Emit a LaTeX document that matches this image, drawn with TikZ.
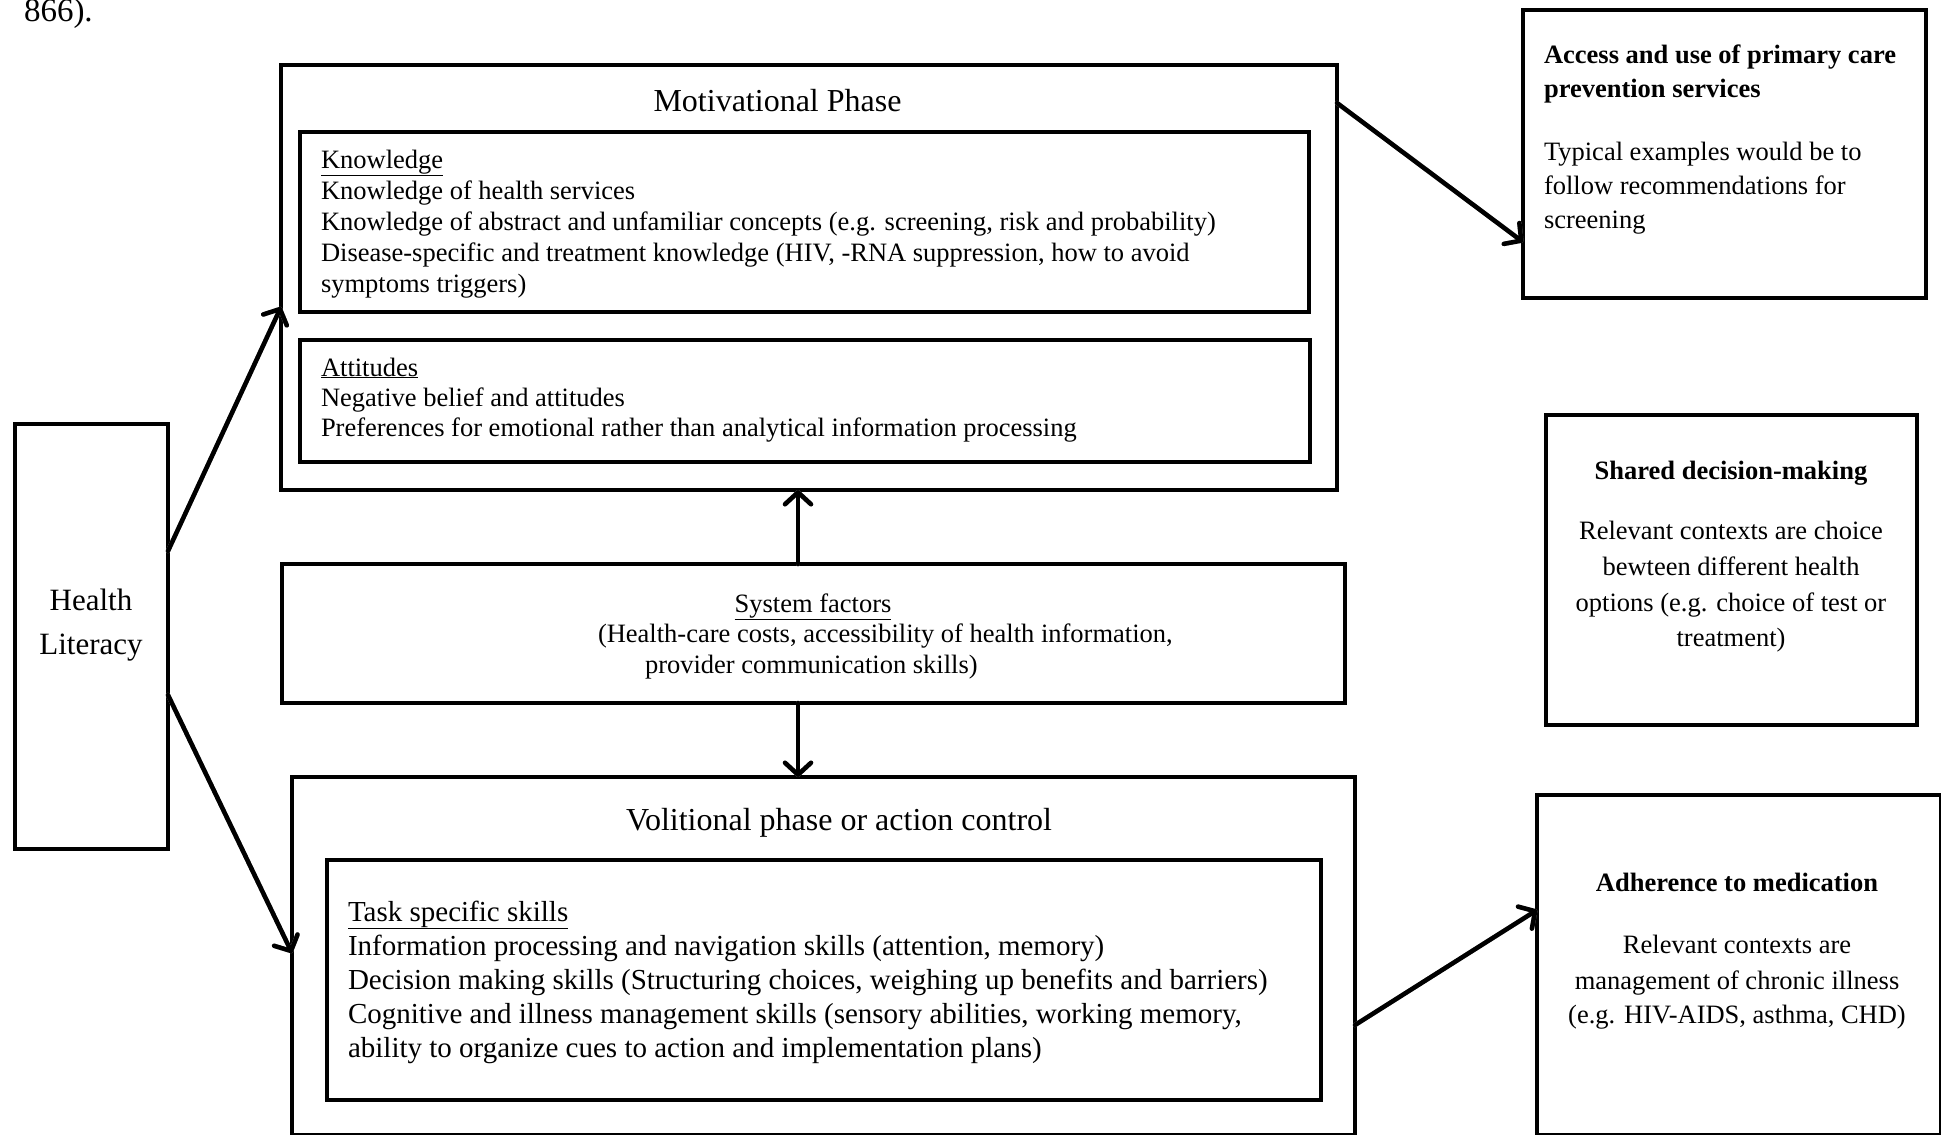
\documentclass[tikz,border=0pt]{standalone}
\usepackage{fontspec}
\setmainfont{Liberation Serif}
\usetikzlibrary{arrows.meta}
\tikzset{
  box/.style={draw, line width=4.5pt, inner sep=0, outer sep=0, anchor=center},
  txt/.style={inner sep=0, outer sep=0, anchor=base west, font=\fontsize{26.5}{30}\selectfont},
  ctxt/.style={txt, anchor=base},
  btxt/.style={txt, font=\fontsize{26.5}{30}\selectfont\bfseries},
  cbtxt/.style={ctxt, font=\fontsize{26.5}{30}\selectfont\bfseries},
  tasktxt/.style={txt, font=\fontsize{29}{33}\selectfont},
  ttl/.style={ctxt, font=\fontsize{32}{36}\selectfont},
  arr/.style={line width=4.5pt, line cap=round, -{Straight Barb[length=12pt,width=26pt,line cap=round,line join=round]}},
  shd/.style={arr, draw=black!40, xshift=2pt, yshift=-2pt}
}
\begin{document}
\begin{tikzpicture}[x=1pt,y=-1pt]
\useasboundingbox (0,0) rectangle (1941,1135);
% stray caption fragment
\node[txt, font=\fontsize{33}{36}\selectfont] (cap) at (24,21) {866).};
% boxes
\node[box, minimum width=153pt, minimum height=425pt] (hl) at (91.5,636.5) {};
\node[box, minimum width=1056pt, minimum height=425pt] (motiv) at (809,277.5) {};
\node[box, minimum width=1009pt, minimum height=180pt] (know) at (804.5,222) {};
\node[box, minimum width=1010pt, minimum height=122pt] (att) at (805,401) {};
\node[box, minimum width=1063pt, minimum height=139pt] (sys) at (813.5,633.5) {};
\node[box, minimum width=1063pt, minimum height=358pt] (vol) at (823.5,956) {};
\node[box, minimum width=994pt, minimum height=240pt] (task) at (824,980) {};
\node[box, minimum width=403pt, minimum height=288pt] (acc) at (1724.5,154) {};
\node[box, minimum width=371pt, minimum height=310pt] (shared) at (1731.5,570) {};
\node[box, minimum width=404pt, minimum height=340pt] (adh) at (1739,965) {};
% Health literacy
\node[ctxt, font=\fontsize{31}{36}\selectfont] (hl1) at (91,610) {Health};
\node[ctxt, font=\fontsize{31}{36}\selectfont] (hl2) at (91,654) {Literacy};
% Motivational phase
\node[ttl] (mt) at (777.5,111) {Motivational Phase};
\node[txt] (k0) at (321,168) {\underline{Knowledge}};
\node[txt] (k1) at (321,199) {Knowledge of health services};
\node[txt] (k2) at (321,230) {Knowledge of abstract and unfamiliar concepts (e.g. screening, risk and probability)};
\node[txt] (k3) at (321,261) {Disease-specific and treatment knowledge (HIV, -RNA suppression, how to avoid};
\node[txt] (k4) at (321,292) {symptoms triggers)};
\node[txt] (a0) at (321,376) {\underline{Attitudes}};
\node[txt] (a1) at (321,406) {Negative belief and attitudes};
\node[txt] (a2) at (321,436) {Preferences for emotional rather than analytical information processing};
% System factors
\node[ctxt] (s0) at (813,612) {\underline{System factors}};
\node[txt] (s1) at (598,642) {(Health-care costs, accessibility of health information,};
\node[txt] (s2) at (645,673) {provider communication skills)};
% Volitional phase
\node[ttl] (vt) at (839,830) {Volitional phase or action control};
\node[tasktxt] (t0) at (348,921) {\underline{Task specific skills}};
\node[tasktxt] (t1) at (348,955) {Information processing and navigation skills (attention, memory)};
\node[tasktxt] (t2) at (348,989) {Decision making skills (Structuring choices, weighing up benefits and barriers)};
\node[tasktxt] (t3) at (348,1023) {Cognitive and illness management skills (sensory abilities, working memory,};
\node[tasktxt] (t4) at (348,1057) {ability to organize cues to action and implementation plans)};
% Access box
\node[btxt] (ac0) at (1544,63) {Access and use of primary care};
\node[btxt] (ac1) at (1544,97) {prevention services};
\node[txt] (ac2) at (1544,160) {Typical examples would be to};
\node[txt] (ac3) at (1544,194) {follow recommendations for};
\node[txt] (ac4) at (1544,228) {screening};
% Shared decision-making
\node[cbtxt] (sh0) at (1731,479) {Shared decision-making};
\node[ctxt] (sh1) at (1731,539) {Relevant contexts are choice};
\node[ctxt] (sh2) at (1731,575) {bewteen different health};
\node[ctxt] (sh3) at (1731,611) {options (e.g. choice of test or};
\node[ctxt] (sh4) at (1731,646) {treatment)};
% Adherence
\node[cbtxt] (ad0) at (1737,891) {Adherence to medication};
\node[ctxt] (ad1) at (1737,953) {Relevant contexts are};
\node[ctxt] (ad2) at (1737,989) {management of chronic illness};
\node[ctxt] (ad3) at (1737,1023) {(e.g. HIV-AIDS, asthma, CHD)};
% connector shadows
\draw[shd] ([yshift=85.5pt]hl.east) -- ([yshift=-29.5pt]motiv.west);
\draw[shd] ([yshift=-58.5pt]hl.east) -- ([yshift=3pt]vol.west);
\draw[shd] ([xshift=-15.5pt]sys.north) -- ([xshift=-15.5pt]sys.north |- motiv.south);
\draw[shd] ([xshift=-15.5pt]sys.south) -- ([xshift=-15.5pt]sys.south |- vol.north);
\draw[shd] ([yshift=174.5pt]motiv.east) -- ([yshift=-88pt]acc.west);
\draw[shd] ([yshift=-69pt]vol.east) -- ([yshift=55pt]adh.west);
% connectors
\draw[arr] ([yshift=85.5pt]hl.east) -- ([yshift=-29.5pt]motiv.west);
\draw[arr] ([yshift=-58.5pt]hl.east) -- ([yshift=3pt]vol.west);
\draw[arr] ([xshift=-15.5pt]sys.north) -- ([xshift=-15.5pt]sys.north |- motiv.south);
\draw[arr] ([xshift=-15.5pt]sys.south) -- ([xshift=-15.5pt]sys.south |- vol.north);
\draw[arr] ([yshift=174.5pt]motiv.east) -- ([yshift=-88pt]acc.west);
\draw[arr] ([yshift=-69pt]vol.east) -- ([yshift=55pt]adh.west);
\end{tikzpicture}
\end{document}
